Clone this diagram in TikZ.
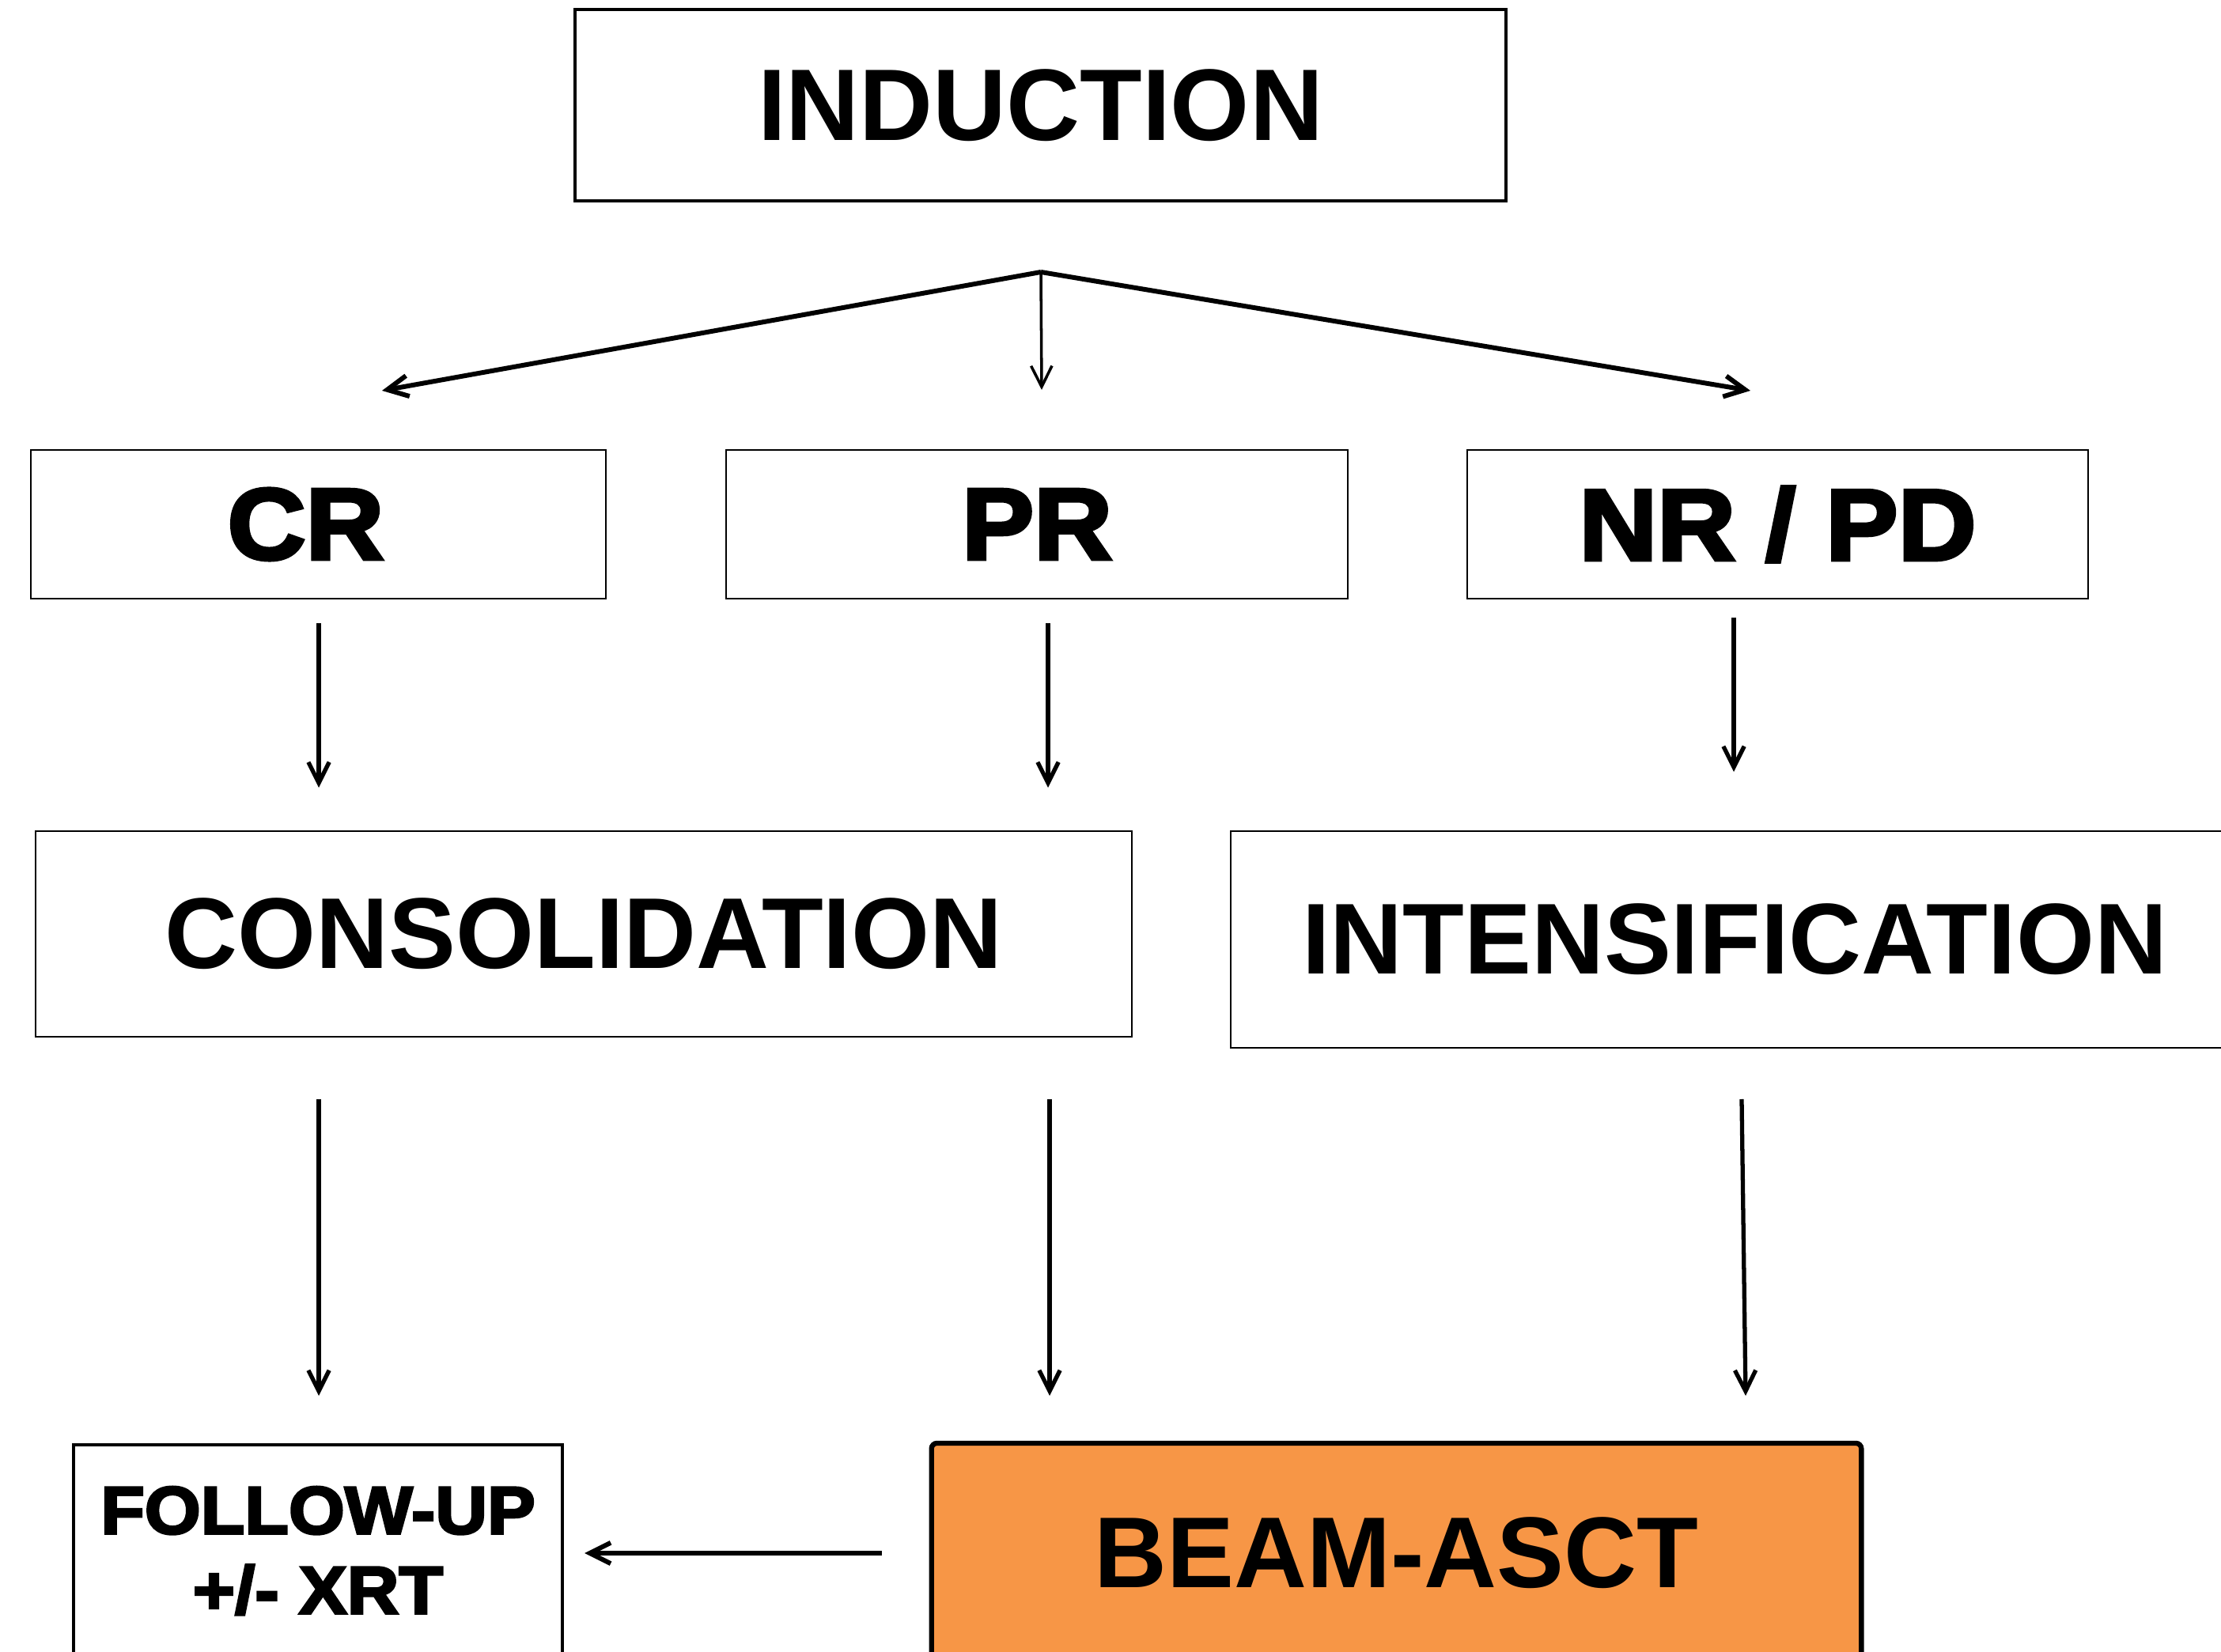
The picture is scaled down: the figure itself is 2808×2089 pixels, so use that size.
\documentclass[tikz,border=0pt]{standalone}
\usepackage{fontspec}
\setmainfont{Liberation Sans}
\newfontfamily\heavyfont{Liberation Sans Bold}[FakeBold=3.5,FakeStretch=1.07]
\usepackage{xcolor}
\usetikzlibrary{arrows.meta, positioning}
\definecolor{beamorange}{HTML}{F79646}

\begin{document}
\begin{tikzpicture}[
  x=0.01cm, y=-0.01cm,
  box/.style={draw, line width=0.6pt, inner sep=0pt, align=center,
    font=\fontsize{36.2}{43}\selectfont\bfseries},
  heavybox/.style={box, font=\fontsize{36.4}{43}\heavyfont},
  arrow/.style={-{Straight Barb[length=7.5pt, width=7.5pt]}, line width=1.5pt}
]
\useasboundingbox (0,0) rectangle (2808,2089);
\clip (0,0) rectangle (2808,2089);

% Nodes
\node[box, line width=1.1pt, minimum width=11.77cm, minimum height=2.42cm,
  font=\fontsize{36.6}{44}\selectfont\bfseries] (induction) at (1315.5,133) {INDUCTION};

\node[heavybox, minimum width=7.27cm, minimum height=1.88cm] (cr) at (402.5,663) {\hspace*{-0.32cm}CR};
\node[heavybox, minimum width=7.86cm, minimum height=1.88cm] (pr) at (1311,663) {PR};
\node[heavybox, minimum width=7.85cm, minimum height=1.88cm] (nrpd) at (2247.5,663) {NR / PD};

\node[box, minimum width=13.86cm, minimum height=2.60cm] (consol) at (738,1181) {CONSOLIDATION};
\node[box, minimum width=12.74cm, minimum height=2.74cm] (intens) at (2193,1188) {INTENSIFICATION};

\node[box, line width=1.1pt, minimum width=6.18cm, minimum height=2.68cm,
  font=\fontsize{24.2}{28.7}\heavyfont] (follow) at (402,1961) {FOLLOW-UP\\+/- XRT};
\node[box, line width=1.8pt, fill=beamorange, rounded corners=2pt,
  minimum width=11.75cm, minimum height=2.78cm] (beam) at (1765.5,1964) {BEAM-ASCT};

% Pointer ends
\coordinate (split) at (1316,344);
\coordinate (cr-in) at (483,494);
\coordinate (pr-in) at (1317,493);
\coordinate (nrpd-in) at (2213,494);
\coordinate (cr-out) at (403,788);
\coordinate (cr-end) at (403,996);
\coordinate (pr-out) at (1325,788);
\coordinate (pr-end) at (1325,996);
\coordinate (nrpd-out) at (2192,781);
\coordinate (nrpd-end) at (2192,976);
\coordinate (consol-l) at (403,1390);
\coordinate (follow-in) at (403,1765);
\coordinate (consol-r) at (1327,1390);
\coordinate (beam-in) at (1327,1765);
\coordinate (intens-out) at (2202,1390);
\coordinate (beam-in2) at (2207,1765);
\coordinate (beam-out) at (1115,1964);
\coordinate (follow-side) at (739,1964);

% Pointers
\draw[arrow, line width=1.7pt] (split) -- (cr-in);
\draw[arrow, line width=1pt] (split) -- (pr-in);
\draw[arrow, line width=1.7pt] (split) -- (nrpd-in);
\draw[arrow] (cr-out) -- (cr-end);
\draw[arrow] (pr-out) -- (pr-end);
\draw[arrow] (nrpd-out) -- (nrpd-end);
\draw[arrow] (consol-l) -- (follow-in);
\draw[arrow] (consol-r) -- (beam-in);
\draw[arrow] (intens-out) -- (beam-in2);
\draw[arrow, line width=1.7pt] (beam-out) -- (follow-side);

\end{tikzpicture}
\end{document}
